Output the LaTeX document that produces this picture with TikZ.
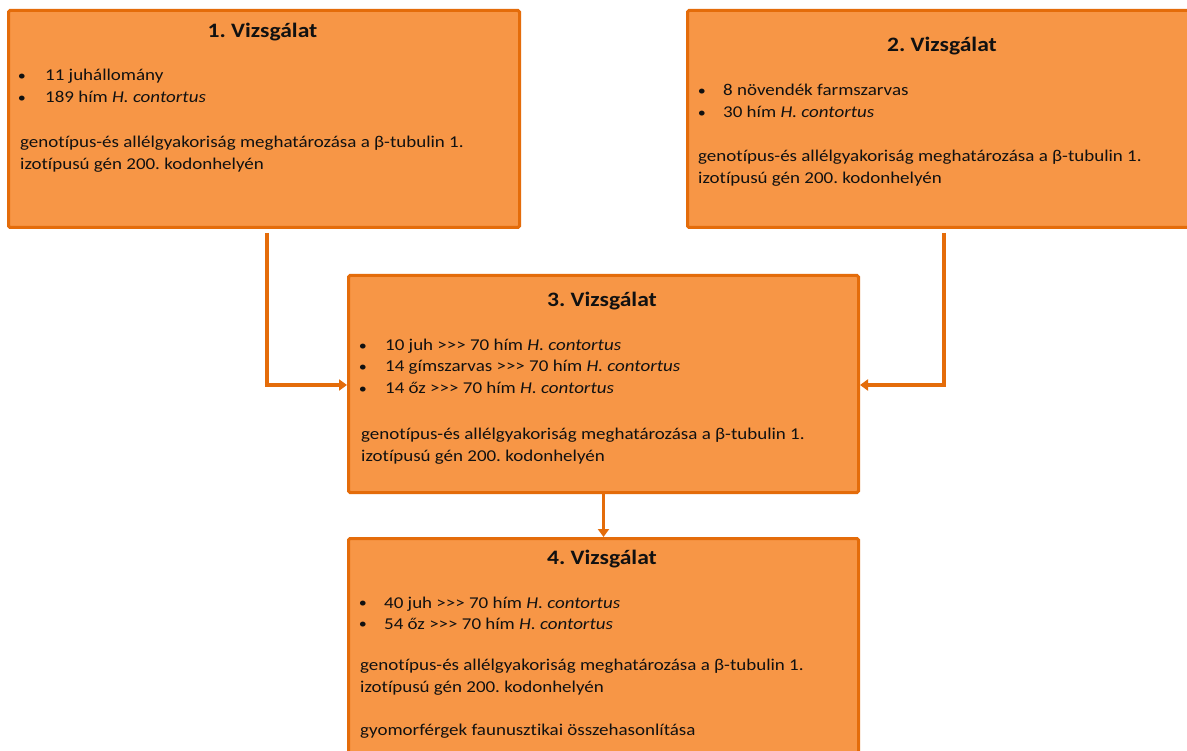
\documentclass[tikz,border=0pt]{standalone}
\usepackage{fontspec}
\setmainfont{Carlito}[FakeStretch=1.15, Ligatures={TeXOff,NoCommon}]
\usetikzlibrary{arrows.meta}
\frenchspacing
\definecolor{boxfill}{HTML}{F79646}
\definecolor{boxline}{HTML}{E46C0A}
\definecolor{txtcol}{HTML}{111111}
\tikzset{
  box/.style={draw=boxline, fill=boxfill, line width=3pt, rounded corners=1.5pt, inner sep=0pt, anchor=north west},
  ttl/.style={anchor=base, inner sep=0pt, text=txtcol, font=\fontsize{20.5}{24}\selectfont\bfseries},
  bodytxt/.style={anchor=base west, inner sep=0pt, text=txtcol, font=\fontsize{16.5}{20}\selectfont},
  bul/.style={anchor=base, inner sep=0pt, text=txtcol, font=\fontsize{14}{16}\selectfont},
  arr/.style={draw=boxline, line width=3.5pt, -{Triangle[length=8pt,width=11pt]}}
}
\begin{document}
\begin{tikzpicture}[x=1pt,y=-1pt]
\useasboundingbox (0,0) rectangle (1187,751);
\clip (0,0) rectangle (1187,751);
\fill[white] (0,0) rectangle (1187,751);
% boxes
\node[box, minimum width=511pt, minimum height=217pt] (b1) at (7,9) {};
\node[box, minimum width=512pt, minimum height=217pt] (b2) at (686,9) {};
\node[box, minimum width=510pt, minimum height=217pt] (b3) at (347,274) {};
\node[box, minimum width=510pt, minimum height=230pt] (b4) at (347,537) {};
% box 1 text
\node[ttl] (t1) at (262.5,38) {1. Vizsgálat};
\node[bul] (b1p1) at (22,80.5) {•};
\node[bodytxt] (b1l1) at (45,81) {11 juhállomány};
\node[bul] (b1p2) at (22,102.5) {•};
\node[bodytxt] (b1l2) at (45,103) {189 hím \textit{H. contortus}};
\node[bodytxt] (b1l3) at (20,148) {genotípus-és allélgyakoriság meghatározása a β-tubulin 1.};
\node[bodytxt] (b1l4) at (20,170) {izotípusú gén 200. kodonhelyén};
% box 2 text
\node[ttl] (t2) at (942,52) {2. Vizsgálat};
\node[bul] (b2p1) at (702,95.5) {•};
\node[bodytxt] (b2l1) at (723,96) {8 növendék farmszarvas};
\node[bul] (b2p2) at (702,117.5) {•};
\node[bodytxt] (b2l2) at (723,118) {30 hím \textit{H. contortus}};
\node[bodytxt] (b2l3) at (698,162) {genotípus-és allélgyakoriság meghatározása a β-tubulin 1.};
\node[bodytxt] (b2l4) at (698,184) {izotípusú gén 200. kodonhelyén};
% box 3 text
\node[ttl] (t3) at (602,307) {3. Vizsgálat};
\node[bul] (b3p1) at (363,350.5) {•};
\node[bodytxt] (b3l1) at (385,351) {10 juh >>> 70 hím \textit{H. contortus}};
\node[bul] (b3p2) at (363,371.5) {•};
\node[bodytxt] (b3l2) at (385,372) {14 gímszarvas >>> 70 hím \textit{H. contortus}};
\node[bul] (b3p3) at (363,393.5) {•};
\node[bodytxt] (b3l3) at (385,394) {14 őz >>> 70 hím \textit{H. contortus}};
\node[bodytxt] (b3l4) at (361,439) {genotípus-és allélgyakoriság meghatározása a β-tubulin 1.};
\node[bodytxt] (b3l5) at (361,461) {izotípusú gén 200. kodonhelyén};
% box 4 text
\node[ttl] (t4) at (602,564) {4. Vizsgálat};
\node[bul] (b4p1) at (363,607.5) {•};
\node[bodytxt] (b4l1) at (384,608) {40 juh >>> 70 hím \textit{H. contortus}};
\node[bul] (b4p2) at (363,628.5) {•};
\node[bodytxt] (b4l2) at (384,629) {54 őz >>> 70 hím \textit{H. contortus}};
\node[bodytxt] (b4l3) at (360,670) {genotípus-és allélgyakoriság meghatározása a β-tubulin 1.};
\node[bodytxt] (b4l4) at (360,692) {izotípusú gén 200. kodonhelyén};
\node[bodytxt] (b4l5) at (360,735) {gyomorférgek faunusztikai összehasonlítása};
% connectors
\coordinate (j1) at (267,385);
\coordinate (j2) at (944,385);
\draw[arr, shorten <=4pt] (b1.south -| j1) |- (b3.west |- j1);
\draw[arr, shorten <=4pt] (b2.south -| j2) |- (b3.east |- j2);
\draw[arr] (b3.south) -- (b4.north);
\end{tikzpicture}
\end{document}
